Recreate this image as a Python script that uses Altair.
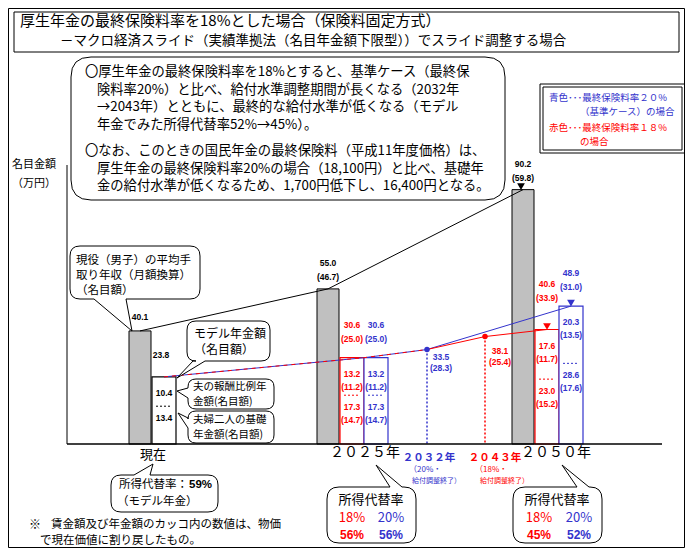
import altair as alt
import pandas as pd

# ---------------- data (万円) ----------------
periods = ["現在", "2025年", "2050年"]
wage_nominal = [40.1, 55.0, 90.2]
wage_real = [None, 46.7, 59.8]

p18_total = [23.8, 30.6, 40.6]
p18_total_real = [None, 25.0, 33.9]
p18_earn = [10.4, 13.2, 17.6]
p18_earn_real = [None, 11.2, 11.7]
p18_basic = [13.4, 17.3, 23.0]
p18_basic_real = [None, 14.7, 15.2]

p20_total = [23.8, 30.6, 48.9]
p20_total_real = [None, 25.0, 31.0]
p20_earn = [10.4, 13.2, 20.3]
p20_earn_real = [None, 11.2, 13.5]
p20_basic = [13.4, 17.3, 28.6]
p20_basic_real = [None, 14.7, 17.6]

adj_end_labels = ["2032年", "2043年"]
adj_end_nominal = [33.5, 38.1]
adj_end_real = [28.3, 25.4]
adj_end_note = ["（20%・", "（18%・"]

repl_current = "59%"
repl_2025 = ["56%", "56%"]   # 18%, 20%
repl_2050 = ["45%", "52%"]

# ---------------- layout ----------------
OFF, W, H = 8, 677, 540
BASE, K = 444, 2.82
GROUP_X = {"現在": 129, "2025年": 317, "2050年": 512}
ADJ_X = {"2032年": 427, "2043年": 485}
JP = "Noto Sans CJK JP"
NUM = "Liberation Sans"
RED = "#FF0000"
BLUE = "#3333CC"
GRAY = "#C0C0C0"
ONE = pd.DataFrame({"a": [0]})


def px(v):
    return v - OFF


XS = alt.Scale(domain=[0, W], nice=False, zero=False)
YS = alt.Scale(domain=[-(OFF + H - BASE) / K, (BASE - OFF) / K], nice=False, zero=False)


def ex(f):
    return alt.X(f"{f}:Q", scale=XS, axis=None)


def ey(f):
    return alt.Y(f"{f}:Q", scale=YS, axis=None)


def fmt(v):
    return f"{v:.1f}"


def fmtr(v):
    return f"({v:.1f})"


FW = str.maketrans("0123456789", "０１２３４５６７８９")

layers = []

# ---------- decoration helpers ----------
def drect(x0, y0, x1, y1, stroke="black", sw=1, fill="white", fo=0):
    return alt.Chart(ONE).mark_rect(fill=fill, fillOpacity=fo, stroke=stroke, strokeWidth=sw).encode(
        x=alt.value(px(x0)), x2=alt.value(px(x1)), y=alt.value(px(y0)), y2=alt.value(px(y1)))


def drule(x0, y0, x1, y1, color="black", sw=1):
    return alt.Chart(ONE).mark_rule(color=color, strokeWidth=sw).encode(
        x=alt.value(px(x0)), x2=alt.value(px(x1)), y=alt.value(px(y0)), y2=alt.value(px(y1)))


def T(x, y, s, size=12, color="black", weight="normal", align="left", font=JP):
    return alt.Chart(ONE).mark_text(text=s, fontSize=size, color=color, fontWeight=weight,
                                    align=align, baseline="middle", font=font).encode(
        x=alt.value(px(x)), y=alt.value(px(y)))


def callout(x0, y0, x1, y1, r, side=None, b1=0, b2=0, ax=0, ay=0):
    parts = [f"M {r} 0"]

    def L(x, y):
        parts.append(f"L {x - x0:.1f} {y - y0:.1f}")

    def Q(cx, cy, x, y):
        parts.append(f"Q {cx - x0:.1f} {cy - y0:.1f} {x - x0:.1f} {y - y0:.1f}")

    if side == "top":
        L(b1, y0); L(ax, ay); L(b2, y0)
    L(x1 - r, y0); Q(x1, y0, x1, y0 + r)
    if side == "right":
        L(x1, b1); L(ax, ay); L(x1, b2)
    L(x1, y1 - r); Q(x1, y1, x1 - r, y1)
    if side == "bottom":
        L(b1, y1); L(ax, ay); L(b2, y1)
    L(x0 + r, y1); Q(x0, y1, x0, y1 - r)
    if side == "left":
        L(x0, b1); L(ax, ay); L(x0, b2)
    L(x0, y0 + r); Q(x0, y0, x0 + r, y0)
    parts.append("Z")
    path = " ".join(parts)
    return alt.Chart(ONE).mark_point(shape=path, size=4, filled=True, fill="white", stroke="black",
                                     strokeWidth=1, opacity=1, fillOpacity=1, strokeOpacity=1).encode(
        x=alt.value(px(x0)), y=alt.value(px(y0)))


# ---------- frames ----------
layers.append(drect(8.5, 8.5, 684.5, 547.5))
layers.append(drect(14, 12, 679, 52))
layers.append(drect(540, 84, 685, 153))
layers.append(drect(543, 87, 682, 150))

# ---------- data frames ----------
g_rows = []
for i, p in enumerate(periods):
    a = GROUP_X[p]
    g_rows.append(dict(x0=px(a), x1=px(a + 22), xc=px(a + 11), v=wage_nominal[i], zero=0,
                       lab=fmt(wage_nominal[i]),
                       rlab=fmtr(wage_real[i]) if wage_real[i] is not None else ""))
gray_df = pd.DataFrame(g_rows)

pen_rows = []
series = [
    ("18", p18_total, p18_total_real, p18_earn, p18_earn_real, p18_basic, p18_basic_real, 23),
    ("20", p20_total, p20_total_real, p20_earn, p20_earn_real, p20_basic, p20_basic_real, 47),
]
for i, p in enumerate(periods):
    a = GROUP_X[p]
    for s, tot, totr, ea, ear, ba, bar_, off in series:
        if i == 0 and s == "20":
            continue
        color = "black" if i == 0 else (RED if s == "18" else BLUE)
        x0 = a + off
        pen_rows.append(dict(
            period=p, color=color, x0=px(x0), x1=px(x0 + 24), xc=px(x0 + 12), s0=px(x0 + 4), s1=px(x0 + 20),
            total=tot[i], basic=ba[i], zero=0,
            tlab=fmt(tot[i]), trlab=fmtr(totr[i]) if totr[i] is not None else "",
            elab=fmt(ea[i]), erlab=fmtr(ear[i]) if ear[i] is not None else "",
            blab=fmt(ba[i]), brlab=fmtr(bar_[i]) if bar_[i] is not None else ""))
pen_df = pd.DataFrame(pen_rows)

# ---------- bars ----------
layers.append(alt.Chart(gray_df).mark_rect(fill=GRAY, stroke="black", strokeWidth=1).encode(
    x=ex("x0"), x2="x1:Q", y=ey("v"), y2="zero:Q"))
for col in ["black", RED, BLUE]:
    sub = pen_df[pen_df.color == col]
    layers.append(alt.Chart(sub).mark_rect(fill="white", stroke=col, strokeWidth=1.2).encode(
        x=ex("x0"), x2="x1:Q", y=ey("total"), y2="zero:Q"))
    layers.append(alt.Chart(sub).mark_rule(color=col, strokeDash=[2, 2], strokeWidth=1).encode(
        x=ex("s0"), x2="s1:Q", y=ey("basic")))

# ---------- lines ----------
cur_c = GROUP_X["現在"] + 35
pair25 = GROUP_X["2025年"] + 47
red50 = GROUP_X["2050年"] + 35
blue50 = GROUP_X["2050年"] + 59
x32, x43 = ADJ_X["2032年"], ADJ_X["2043年"]

black_df = pd.DataFrame({"x": [px(GROUP_X[p] + 11) for p in periods], "v": wage_nominal})
blue_df = pd.DataFrame({"x": [px(cur_c), px(pair25), px(x32), px(blue50)],
                        "v": [p20_total[0], p20_total[1], adj_end_nominal[0], p20_total[2]]})
reddash_df = pd.DataFrame({"x": [px(cur_c), px(pair25), px(x32)],
                           "v": [p18_total[0], p18_total[1], adj_end_nominal[0]]})
red_df = pd.DataFrame({"x": [px(x32), px(x43), px(red50)],
                       "v": [adj_end_nominal[0], adj_end_nominal[1], p18_total[2]]})
adj_df = pd.DataFrame({"x": [px(x32), px(x43)], "v": adj_end_nominal, "zero": [0, 0],
                       "lab": [fmt(v) for v in adj_end_nominal],
                       "rlab": [fmtr(v) for v in adj_end_real],
                       "color": [BLUE, RED]})

for i, col in enumerate([BLUE, RED]):
    layers.append(alt.Chart(adj_df.iloc[[i]]).mark_rule(color=col, strokeDash=[2, 2], strokeWidth=1.5).encode(
        x=ex("x"), y=ey("v"), y2="zero:Q"))

layers.append(alt.Chart(black_df).mark_line(color="black", strokeWidth=1).encode(x=ex("x"), y=ey("v")))
layers.append(alt.Chart(blue_df).mark_line(color=BLUE, strokeWidth=1).encode(x=ex("x"), y=ey("v")))
layers.append(alt.Chart(reddash_df).mark_line(color=RED, strokeWidth=1, strokeDash=[4, 4]).encode(x=ex("x"), y=ey("v")))
layers.append(alt.Chart(red_df).mark_line(color=RED, strokeWidth=1).encode(x=ex("x"), y=ey("v")))

for i, col in enumerate([BLUE, RED]):
    layers.append(alt.Chart(adj_df.iloc[[i]]).mark_circle(color=col, size=30, opacity=1).encode(
        x=ex("x"), y=ey("v")))

arrow_df = [
    (pd.DataFrame({"x": [px(GROUP_X["2050年"] + 9)], "v": [wage_nominal[2]]}), "black"),
    (pd.DataFrame({"x": [px(red50)], "v": [p18_total[2]]}), RED),
    (pd.DataFrame({"x": [px(blue50)], "v": [p20_total[2]]}), BLUE),
]
for d, col in arrow_df:
    layers.append(alt.Chart(d).mark_point(shape="triangle-down", filled=True, color=col, size=60,
                                          opacity=1, yOffset=-3).encode(x=ex("x"), y=ey("v")))

# ---------- axis lines ----------
layers.append(drule(67, 165, 67, 444, sw=1))
layers.append(drule(67, 444, 662, 444, sw=1.5))

# ---------- callouts ----------
layers.append(callout(71, 57, 505, 200, 20))
layers.append(callout(70, 246, 200, 299, 10, "bottom", 126, 94, 132, 331))
layers.append(callout(187, 321, 270, 361, 9, "bottom", 205, 193, 177, 378))
layers.append(callout(188, 379, 274, 409, 8, "left", 398, 388, 177, 391))
layers.append(callout(188, 411, 274, 443, 8, "left", 428, 418, 178, 413))
layers.append(callout(111, 475, 218, 512, 10, "top", 134, 150, 153, 464))
layers.append(callout(327, 487, 416, 543, 12, "top", 390, 402, 376, 465))
layers.append(callout(513, 487, 602, 543, 12, "top", 577, 589, 562, 465))


# ---------- data labels ----------
def lab(df, ycol, tcol, color, dy, dx=0, xcol="xc", size=8.5):
    d = df[df[tcol] != ""]
    return alt.Chart(d).mark_text(color=color, dy=dy, dx=dx, fontSize=size, fontWeight="bold",
                                  font=NUM, align="center", baseline="middle").encode(
        x=ex(xcol), y=ey(ycol), text=f"{tcol}:N")


cur_g = gray_df[gray_df.rlab == ""]
oth_g = gray_df[gray_df.rlab != ""]
layers.append(lab(cur_g, "v", "lab", "black", -14))
layers.append(lab(oth_g, "v", "lab", "black", -26))
layers.append(lab(oth_g, "v", "rlab", "black", -12))

for col in ["black", RED, BLUE]:
    sub = pen_df[pen_df.color == col]
    if col == "black":
        layers.append(lab(sub, "total", "tlab", col, -22, dx=-3))
    elif col == RED:
        s25 = sub[sub.period == "2025年"]
        s50 = sub[sub.period == "2050年"]
        layers.append(lab(s25, "total", "tlab", col, -33))
        layers.append(lab(s25, "total", "trlab", col, -19))
        layers.append(lab(s50, "total", "tlab", col, -46))
        layers.append(lab(s50, "total", "trlab", col, -32))
    else:
        layers.append(lab(sub, "total", "tlab", col, -33))
        layers.append(lab(sub, "total", "trlab", col, -19))
    layers.append(lab(sub, "total", "elab", col, 16))
    layers.append(lab(sub, "total", "erlab", col, 29))
    layers.append(lab(sub, "basic", "blab", col, 12))
    layers.append(lab(sub, "basic", "brlab", col, 25))

layers.append(lab(adj_df.iloc[[0]], "v", "lab", BLUE, 7, dx=14, xcol="x"))
layers.append(lab(adj_df.iloc[[0]], "v", "rlab", BLUE, 18, dx=14, xcol="x"))
layers.append(lab(adj_df.iloc[[1]], "v", "lab", RED, 14, dx=15, xcol="x"))
layers.append(lab(adj_df.iloc[[1]], "v", "rlab", RED, 25, dx=15, xcol="x"))

# ---------- texts ----------
texts = [
    T(20, 21, "厚生年金の最終保険料率を18%とした場合（保険料固定方式）", 15),
    T(60, 41, "－マクロ経済スライド（実績準拠法（名目年金額下限型））でスライド調整する場合", 13.5),
    T(85, 72, "〇厚生年金の最終保険料率を18%とすると、基準ケース（最終保", 13.3),
    T(97, 89.5, "険料率20%）と比べ、給付水準調整期間が長くなる（2032年", 13.3),
    T(97, 107, "→2043年）とともに、最終的な給付水準が低くなる（モデル", 13.3),
    T(97, 124.5, "年金でみた所得代替率52%→45%）。", 13.3),
    T(85, 151, "〇なお、このときの国民年金の最終保険料（平成11年度価格）は、", 13.3),
    T(97, 168.5, "厚生年金の最終保険料率20%の場合（18,100円）と比べ、基礎年", 13.3),
    T(97, 186, "金の給付水準が低くなるため、1,700円低下し、16,400円となる。", 13.3),
    T(34, 165, "名目金額", 11, align="center"),
    T(34, 184, "（万円）", 11, align="center"),
    T(549, 98, "青色･･･最終保険料率２０%", 9.5, BLUE),
    T(580, 112, "（基準ケース）の場合", 9.5, BLUE),
    T(549, 128, "赤色･･･最終保険料率１８%", 9.5, RED),
    T(580, 142, "の場合", 9.5, RED),
    T(76, 261, "現役（男子）の平均手", 11.5),
    T(76, 276, "取り年収（月額換算）", 11.5),
    T(76, 291, "（名目額）", 11.5),
    T(194, 334, "モデル年金額", 12),
    T(194, 350, "（名目額）", 12),
    T(193, 386.5, "夫の報酬比例年", 10.5),
    T(193, 401.5, "金額(名目額)", 10.5),
    T(193, 419.5, "夫婦二人の基礎", 10.5),
    T(193, 435, "年金額(名目額)", 10.5),
    T(153, 455, "現在", 13, align="center"),
    T(365, 453, "２０２５年", 14, align="center"),
    T(556, 453, "２０５０年", 14, align="center"),
    T(429, 458, adj_end_labels[0].translate(FW), 10.5, BLUE, "bold", "center"),
    T(409, 469.5, adj_end_note[0], 8, BLUE),
    T(412, 480.5, "給付調整終了）", 7, BLUE),
    T(495, 458, adj_end_labels[1].translate(FW), 10.5, RED, "bold", "center"),
    T(475, 469.5, adj_end_note[1], 8, RED),
    T(480, 480.5, "給付調整終了）", 7, RED),
    T(119, 485, "所得代替率：", 11.5),
    T(189, 485, repl_current, 11.5, weight="bold", font=NUM),
    T(117, 502, "（モデル年金）", 11.5),
    T(371, 500, "所得代替率", 13, align="center"),
    T(352, 518, "18%", 13, RED, align="center"),
    T(391, 518, "20%", 13, BLUE, align="center"),
    T(352, 535, repl_2025[0], 12, RED, "bold", "center", NUM),
    T(391, 535, repl_2025[1], 12, BLUE, "bold", "center", NUM),
    T(557, 500, "所得代替率", 13, align="center"),
    T(539, 518, "18%", 13, RED, align="center"),
    T(579, 518, "20%", 13, BLUE, align="center"),
    T(539, 535, repl_2050[0], 12, RED, "bold", "center", NUM),
    T(579, 535, repl_2050[1], 12, BLUE, "bold", "center", NUM),
    T(29, 525, "※", 12),
    T(51, 525, "賃金額及び年金額のカッコ内の数値は、物価", 11.5),
    T(40, 541, "で現在価値に割り戻したもの。", 11.5),
]
layers.extend(texts)

chart = alt.layer(*layers).properties(
    width=W, height=H, autosize=alt.AutoSizeParams(type="none"), padding=0
).configure_view(strokeWidth=0)

chart.save("out.html", embed_options={"renderer": "svg", "actions": False})
